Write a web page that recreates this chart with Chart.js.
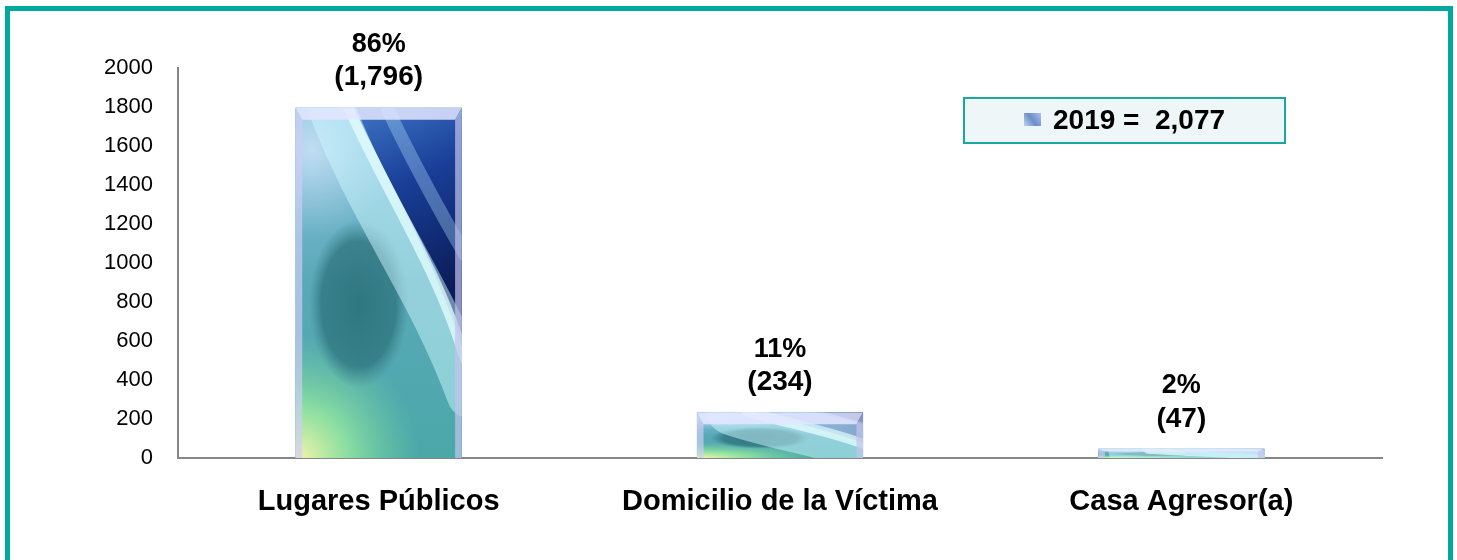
<!DOCTYPE html>
<html>
<head>
<meta charset="utf-8">
<script src="https://cdn.jsdelivr.net/npm/chart.js@4.4.0/dist/chart.umd.min.js"></script>
<style>
  html, body { margin:0; padding:0; background:#ffffff; overflow:hidden; }
  #wrap { position:relative; width:1457px; height:560px; }
  #frame { position:absolute; left:5px; top:6px; width:1448px; height:620px; box-sizing:border-box;
           border:5px solid #00a99d; pointer-events:none; }
  canvas { position:absolute; left:0; top:0; }
</style>
</head>
<body>
<div id="wrap">
  <canvas id="c" width="1457" height="560"></canvas>
  <div id="frame"></div>
</div>
<script>
const categories = ['Lugares Públicos', 'Domicilio de la Víctima', 'Casa Agresor(a)'];
const values = [1796, 234, 47];
const pctLabels = ['86%', '11%', '2%'];
const yTicks = [0, 200, 400, 600, 800, 1000, 1200, 1400, 1600, 1800, 2000];
const legendYear = '2019';
const legendTotal = '2,077';

const FONT = '"Liberation Sans", Arial, Helvetica, sans-serif';

function blob(ctx, cx, cy, rx, ry, stops) {
  ctx.save();
  ctx.translate(cx, cy);
  ctx.scale(rx, ry);
  const rg = ctx.createRadialGradient(0, 0, 0, 0, 0, 1);
  stops.forEach(s => rg.addColorStop(s[0], s[1]));
  ctx.fillStyle = rg;
  ctx.beginPath(); ctx.arc(0, 0, 1, 0, Math.PI * 2); ctx.fill();
  ctx.restore();
}

function paintBar(ctx, l, t, w, h) {
  if (h <= 0) return;
  ctx.save();
  ctx.beginPath();
  ctx.rect(l, t, w, h);
  ctx.clip();
  // base
  let g = ctx.createLinearGradient(l, t, l, t + h);
  g.addColorStop(0, '#8cc4e0');
  g.addColorStop(0.5, '#5aa8b8');
  g.addColorStop(1, '#4aa8a8');
  ctx.fillStyle = g;
  ctx.fillRect(l, t, w, h);
  // bottom-left yellow-green
  blob(ctx, l, t + h, 0.75 * w, 0.35 * h, [[0, 'rgba(245,245,170,1)'], [0.4, 'rgba(150,230,160,0.9)'], [1, 'rgba(110,210,160,0)']]);
  // top-left light
  blob(ctx, l + 0.1 * w, t + 0.12 * h, 0.5 * w, 0.25 * h, [[0, 'rgba(200,225,245,0.9)'], [1, 'rgba(180,215,240,0)']]);
  // dark teal oval
  blob(ctx, l + 0.38 * w, t + 0.56 * h, 0.3 * w, 0.24 * h, [[0, 'rgba(40,110,118,0.85)'], [0.75, 'rgba(45,115,125,0.75)'], [1, 'rgba(60,130,140,0)']]);
  // navy upper-right region above band
  ctx.save();
  ctx.beginPath();
  ctx.moveTo(l + 0.35 * w, t);
  ctx.lineTo(l + w, t);
  ctx.lineTo(l + w, t + 0.68 * h);
  ctx.bezierCurveTo(l + 0.85 * w, t + 0.45 * h, l + 0.55 * w, t + 0.2 * h, l + 0.35 * w, t);
  ctx.closePath();
  g = ctx.createLinearGradient(l + 0.5 * w, t, l + w, t + 0.5 * h);
  g.addColorStop(0, '#3a70c0');
  g.addColorStop(0.4, '#1a3f98');
  g.addColorStop(1, '#0a1c58');
  ctx.fillStyle = g;
  ctx.fill();
  ctx.restore();
  // bright bands
  ctx.lineCap = 'round';
  ctx.strokeStyle = 'rgba(205,248,255,0.5)';
  ctx.lineWidth = 0.28 * w;
  ctx.beginPath();
  ctx.moveTo(l + 0.2 * w, t - 0.02 * h);
  ctx.bezierCurveTo(l + 0.45 * w, t + 0.3 * h, l + 0.8 * w, t + 0.5 * h, l + 1.05 * w, t + 0.82 * h);
  ctx.stroke();
  ctx.strokeStyle = 'rgba(230,255,255,0.75)';
  ctx.lineWidth = 0.06 * w;
  ctx.beginPath();
  ctx.moveTo(l + 0.3 * w, t - 0.02 * h);
  ctx.bezierCurveTo(l + 0.55 * w, t + 0.25 * h, l + 0.85 * w, t + 0.45 * h, l + 1.02 * w, t + 0.72 * h);
  ctx.stroke();
  ctx.strokeStyle = 'rgba(180,225,255,0.35)';
  ctx.lineWidth = 0.08 * w;
  ctx.beginPath();
  ctx.moveTo(l + 0.55 * w, t);
  ctx.bezierCurveTo(l + 0.7 * w, t + 0.15 * h, l + 0.85 * w, t + 0.28 * h, l + 1.02 * w, t + 0.42 * h);
  ctx.stroke();
  // bevel edges
  const bt = Math.min(12, h * 0.3);
  const bs = Math.min(7, w * 0.04);
  ctx.fillStyle = 'rgba(228,230,255,0.85)';
  ctx.beginPath();
  ctx.moveTo(l, t); ctx.lineTo(l + w, t); ctx.lineTo(l + w - bs, t + bt); ctx.lineTo(l + bs, t + bt); ctx.closePath();
  ctx.fill();
  ctx.fillStyle = 'rgba(205,205,245,0.7)';
  ctx.beginPath();
  ctx.moveTo(l, t); ctx.lineTo(l + bs, t + bt); ctx.lineTo(l + bs, t + h); ctx.lineTo(l, t + h); ctx.closePath();
  ctx.fill();
  ctx.fillStyle = 'rgba(195,195,240,0.7)';
  ctx.beginPath();
  ctx.moveTo(l + w, t); ctx.lineTo(l + w - bs, t + bt); ctx.lineTo(l + w - bs, t + h); ctx.lineTo(l + w, t + h); ctx.closePath();
  ctx.fill();
  ctx.restore();
}

const barPainter = {
  id: 'barPainter',
  afterDatasetsDraw(chart) {
    const ctx = chart.ctx;
    const meta = chart.getDatasetMeta(0);
    meta.data.forEach((el, i) => {
      const w = el.width;
      const l = el.x - w / 2;
      const t = el.y;
      const h = el.base - el.y;
      paintBar(ctx, l, t, w, h);
      ctx.save();
      ctx.fillStyle = '#000';
      ctx.textAlign = 'center';
      ctx.textBaseline = 'middle';
      ctx.font = 'bold 27px ' + FONT;
      ctx.fillText(pctLabels[i], el.x, el.y - 63);
      ctx.font = 'bold 28px ' + FONT;
      ctx.fillText('(' + values[i].toLocaleString('en-US') + ')', el.x, el.y - 30);
      ctx.restore();
    });
  },
  afterDraw(chart) {
    const ctx = chart.ctx;
    ctx.save();
    ctx.fillStyle = '#eef6f8';
    ctx.fillRect(963, 97, 323, 47);
    ctx.strokeStyle = '#1aa89c';
    ctx.lineWidth = 2;
    ctx.strokeRect(964, 98, 321, 45);
    const ig = ctx.createLinearGradient(1023, 126, 1041, 113);
    ig.addColorStop(0, '#c8d8f0');
    ig.addColorStop(0.5, '#6a90c8');
    ig.addColorStop(1, '#b0c0f0');
    ctx.fillStyle = ig;
    ctx.fillRect(1024, 113, 17, 13);
    ctx.fillStyle = '#000';
    ctx.font = 'bold 28px ' + FONT;
    ctx.textAlign = 'left';
    ctx.textBaseline = 'middle';
    ctx.fillText(legendYear + ' =  ' + legendTotal, 1053, 121);
    ctx.restore();
  }
};

new Chart(document.getElementById('c'), {
  type: 'bar',
  data: {
    labels: categories,
    datasets: [{
      label: legendYear,
      data: values,
      backgroundColor: '#3a8ca0',
      borderWidth: 0,
      categoryPercentage: 1,
      barPercentage: 0.414
    }]
  },
  options: {
    responsive: false,
    animation: false,
    events: [],
    layout: { padding: { top: 68, right: 75, left: 0, bottom: 0 } },
    plugins: { legend: { display: false }, tooltip: { enabled: false } },
    scales: {
      x: {
        grid: { display: false, drawTicks: false },
        border: { display: true, color: '#868686', width: 2 },
        ticks: { color: '#000', font: { family: FONT, size: 29, weight: 'bold' }, padding: 27, maxRotation: 0, autoSkip: false },
        afterFit(s) { s.height = 102; }
      },
      y: {
        min: 0, max: 2000,
        afterBuildTicks(s) { s.ticks = yTicks.map(v => ({ value: v })); },
        grid: { display: false, drawTicks: false },
        border: { display: true, color: '#868686', width: 2 },
        ticks: { color: '#000', font: { family: FONT, size: 22 }, padding: 25, callback: (v) => String(v) },
        afterFit(s) { s.width = 178; }
      }
    }
  },
  plugins: [barPainter]
});
</script>
</body>
</html>
